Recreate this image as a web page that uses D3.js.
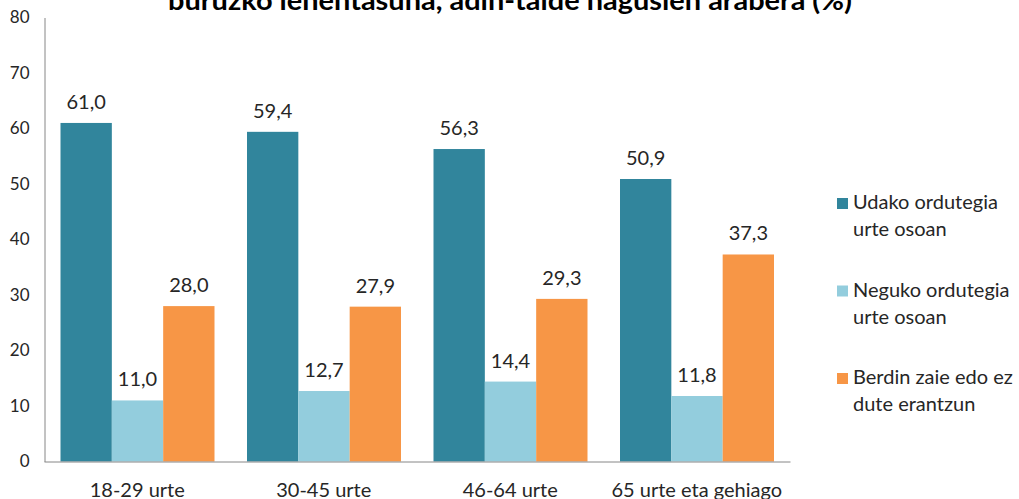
<!DOCTYPE html>
<html>
<head>
  <style>
    body {
      margin: 0;
      background: white;
    }
    svg text {
      font-family: Lato, "Open Sans", sans-serif;
      fill: #262626;
    }
  </style>
</head>
<body>
  <div id="chart"></div>
  <script src="https://d3js.org/d3.v7.min.js"></script>
  <script>
    var width = 1019, height = 499;

    var categories = ["18-29 urte", "30-45 urte", "46-64 urte", "65 urte eta gehiago"];
    var seriesNames = [
      ["Udako ordutegia", "urte osoan"],
      ["Neguko ordutegia", "urte osoan"],
      ["Berdin zaie edo ez", "dute erantzun"]
    ];
    var udako = [61.0, 59.4, 56.3, 50.9];
    var neguko = [11.0, 12.7, 14.4, 11.8];
    var berdin = [28.0, 27.9, 29.3, 37.3];
    var yTicks = [0, 10, 20, 30, 40, 50, 60, 70, 80];
    var colours = ["#31859c", "#93cddd", "#f79646"];
    var title = "buruzko lehentasuna, adin-talde nagusien arabera (%)";

    var series = [udako, neguko, berdin];

    var svg = d3.select("#chart").append("svg")
        .attr("width", width)
        .attr("height", height);

    var x0 = d3.scaleBand().domain(categories).range([44, 790]);
    var x1 = d3.scaleBand().domain([0, 1, 2]).range([16.5, 170.5]);
    var y = d3.scaleLinear().domain([0, 80]).range([461.5, 17.5]);

    // title (its first line sits above the picture, as in the original)
    svg.append("text")
        .attr("x", 510)
        .attr("y", 10)
        .attr("text-anchor", "middle")
        .attr("textLength", 684)
        .attr("lengthAdjust", "spacingAndGlyphs")
        .style("font-size", "27px")
        .style("font-weight", "bold")
        .style("fill", "#000")
        .text(title);

    // bars
    var groups = svg.selectAll("g.grp")
        .data(categories)
      .enter().append("g")
        .attr("class", "grp")
        .attr("transform", d => "translate(" + x0(d) + ",0)");

    groups.selectAll("rect")
        .data((c, ci) => series.map((s, si) => ({si: si, v: s[ci]})))
      .enter().append("rect")
        .attr("x", d => x1(d.si))
        .attr("width", x1.bandwidth())
        .attr("y", d => y(d.v))
        .attr("height", d => y(0) - y(d.v))
        .style("fill", d => colours[d.si]);

    groups.selectAll("text.val")
        .data((c, ci) => series.map((s, si) => ({si: si, v: s[ci]})))
      .enter().append("text")
        .attr("class", "val")
        .attr("x", d => x1(d.si) + x1.bandwidth() / 2)
        .attr("y", d => y(d.v) - 14)
        .attr("text-anchor", "middle")
        .style("font-size", "20px")
        .text(d => d.v.toFixed(1).replace(".", ","));

    // y axis
    var yAxis = svg.append("g")
        .attr("transform", "translate(44.5,0)")
        .call(d3.axisLeft(y).tickValues(yTicks).tickSize(0).tickPadding(15));
    yAxis.select(".domain").attr("stroke", "#868686");
    yAxis.selectAll("text")
        .style("font-size", "17px")
        .style("font-family", "Lato, sans-serif")
        .attr("fill", "#262626");

    // x axis
    var xAxis = svg.append("g")
        .attr("transform", "translate(0," + y(0) + ")")
        .call(d3.axisBottom(x0).tickSize(0).tickPadding(0));
    xAxis.select(".domain").attr("stroke", "#868686");
    xAxis.selectAll("text")
        .attr("y", 35)
        .attr("dy", 0)
        .style("font-size", "20px")
        .style("font-family", "Lato, sans-serif")
        .attr("fill", "#262626");

    // legend
    var legend = svg.selectAll("g.leg")
        .data(seriesNames)
      .enter().append("g")
        .attr("class", "leg")
        .attr("transform", (d, i) => "translate(837," + (198 + i * 87.5) + ")");

    legend.append("rect")
        .attr("width", 11)
        .attr("height", 11)
        .style("fill", (d, i) => colours[i]);

    legend.each(function(d) {
      var g = d3.select(this);
      d.forEach((line, li) => {
        g.append("text")
            .attr("x", 16)
            .attr("y", 11 + li * 27)
            .style("font-size", "20px")
            .text(line);
      });
    });
  </script>
</body>
</html>
